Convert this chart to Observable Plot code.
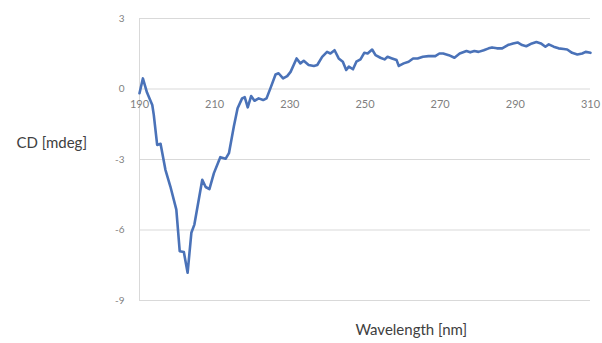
<!DOCTYPE html>
<html>
<head>
<meta charset="utf-8">
<script src="https://cdn.jsdelivr.net/npm/d3@7"></script>
<script src="https://cdn.jsdelivr.net/npm/@observablehq/plot@0.6"></script>
<style>
  html, body { margin: 0; padding: 0; background: #fff; }
  svg { display: block; }
</style>
</head>
<body>
<div id="chart"></div>
<script>
const wavelength = [190, 190.9, 192, 193.4, 193.8, 194.7, 195.6, 196.9, 198.2, 199.8, 200.7, 201.8, 202.8, 203.8, 204.6, 206.7, 207.6, 208.6, 209.8, 211.5, 212.9, 213.8, 215.1, 216.1, 217.3, 218, 218.8, 219.7, 220.6, 221.7, 222.9, 223.8, 225, 226.2, 227, 228.2, 229.3, 230.2, 231.8, 232.8, 233.7, 235, 236.4, 237.3, 238.6, 239.9, 240.8, 241.9, 243, 244.1, 245, 245.7, 246.8, 247.7, 248.8, 249.8, 250.7, 251.9, 252.8, 254.1, 255.2, 256, 257.2, 258.4, 259, 260.3, 261.6, 262.8, 264, 265.4, 266.9, 268.7, 269.8, 270.8, 272.3, 273.8, 275.2, 277, 278, 279.1, 280.2, 281.6, 282.9, 283.8, 285.1, 286.5, 288, 289.4, 290.6, 291.8, 292.9, 294.4, 295.6, 296.8, 298, 298.9, 300.2, 301.5, 302.9, 303.8, 305.1, 306.5, 307.8, 308.7, 310];
const cd = [-0.18, 0.45, -0.15, -0.68, -1.1, -2.38, -2.33, -3.44, -4.14, -5.13, -6.9, -6.94, -7.82, -6.12, -5.77, -3.86, -4.17, -4.26, -3.58, -2.9, -2.97, -2.73, -1.6, -0.82, -0.4, -0.35, -0.78, -0.3, -0.5, -0.4, -0.47, -0.4, 0.1, 0.62, 0.67, 0.45, 0.55, 0.73, 1.3, 1.09, 1.2, 1.02, 0.98, 1.02, 1.37, 1.58, 1.51, 1.65, 1.3, 1.16, 0.81, 0.95, 0.84, 1.16, 1.26, 1.54, 1.51, 1.68, 1.44, 1.33, 1.26, 1.37, 1.3, 1.23, 0.98, 1.09, 1.16, 1.3, 1.3, 1.37, 1.4, 1.4, 1.51, 1.51, 1.44, 1.33, 1.51, 1.62, 1.56, 1.62, 1.58, 1.65, 1.73, 1.77, 1.73, 1.73, 1.87, 1.94, 1.98, 1.87, 1.82, 1.94, 2.0, 1.94, 1.8, 1.9, 1.8, 1.73, 1.7, 1.68, 1.54, 1.47, 1.51, 1.58, 1.54];
const xTicks = [190, 210, 230, 250, 270, 290, 310];
const yTicks = [3, 0, -3, -6, -9];
const xTitle = "Wavelength [nm]";
const yTitle = "CD [mdeg]";

const data = wavelength.map((w, i) => ({w, v: cd[i]}));

const chart = Plot.plot({
  width: 602,
  height: 343,
  marginLeft: 139,
  marginRight: 12,
  marginTop: 18,
  marginBottom: 43,
  style: {fontFamily: "Lato, 'Open Sans', sans-serif", background: "#fff"},
  x: {domain: [190, 310]},
  y: {domain: [-9, 3]},
  marks: [
    Plot.ruleY(yTicks, {stroke: "#d9d9d9", strokeWidth: 1}),
    Plot.ruleX([190], {stroke: "#d9d9d9", strokeWidth: 1}),
    Plot.axisY(yTicks, {tickSize: 0, tickPadding: 15, fontSize: 10, fill: "#7f7f7f", label: null, tickFormat: d => d < 0 ? "-" + Math.abs(d) : String(d)}),
    Plot.axisX({ticks: [], label: null, tickSize: 0}),
    Plot.text(xTicks, {x: d => d, y: 0, dy: 15, fontSize: 11, fill: "#7f7f7f", text: d => String(d)}),
    Plot.line(data, {x: "w", y: "v", stroke: "#4a72b8", strokeWidth: 2.6, strokeLinejoin: "round"}),
    Plot.text([yTitle], {x: 190, y: -2.3, dx: -123, textAnchor: "start", fontSize: 15, fill: "#404040"}),
    Plot.text([xTitle], {x: 262.3, frameAnchor: "bottom", dy: 34, fontSize: 15, fill: "#404040"})
  ]
});
document.getElementById("chart").append(chart);
</script>
</body>
</html>
